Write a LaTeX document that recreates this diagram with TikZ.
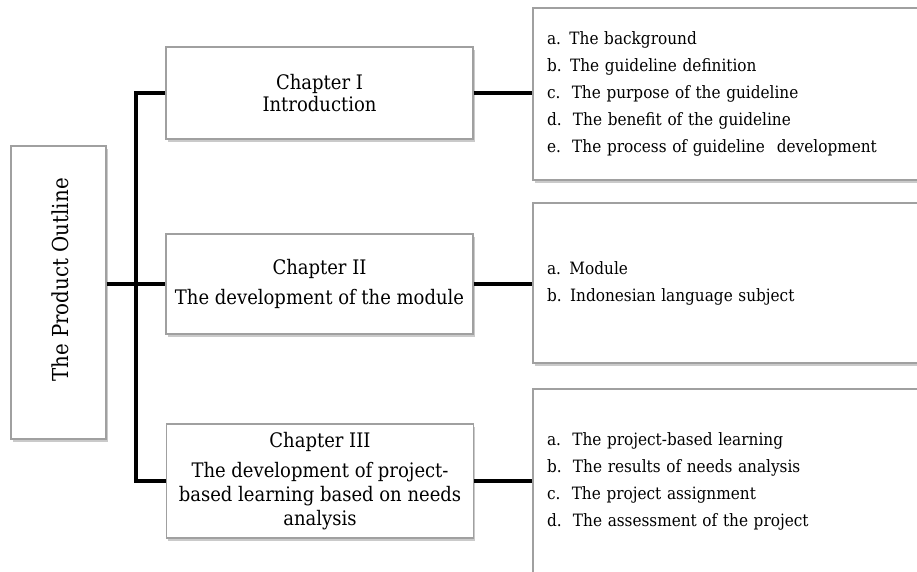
\documentclass[tikz,border=0pt]{standalone}
\usepackage{fontspec}
\setmainfont{DejaVu Serif Condensed}
\usetikzlibrary{positioning, shadows}
\definecolor{box-gray}{RGB}{160,160,160}

\begin{document}
\begin{tikzpicture}[x=1pt, y=-1pt]
	\tikzset{outbox/.style={draw=box-gray, line width=1.2pt, fill=white, drop shadow={shadow xshift=1.5pt, shadow yshift=-2.5pt, opacity=.35, fill=black!60}}}
	\tikzset{chapbox/.style={outbox, minimum width=307pt, align=center, inner sep=0pt}}
	\tikzset{listbox/.style={outbox, minimum width=392pt, text width=364pt, inner xsep=14pt, inner ysep=0pt, align=left, font=\fontsize{17}{27}\selectfont}}
	\tikzset{conn/.style={line width=4.5pt}}

	\useasboundingbox (0,0) rectangle (917,571);

	% the outline box on the left
	\node[outbox, minimum width=95pt, minimum height=293pt] (outline) at (58.5,292.5) {};
	\node[rotate=90, font=\fontsize{22}{26}\selectfont] (title) at (60,280) {The Product Outline};

	% chapters
	\node[chapbox, minimum height=92pt, font=\fontsize{20}{22}\selectfont] (ch1) at (319.5,93) {Chapter I\\Introduction};
	\node[chapbox, minimum height=100pt, font=\fontsize{20}{30}\selectfont] (ch2) at (319.5,284) {Chapter II\\The development of the module};
	\node[chapbox, minimum height=114pt, font=\fontsize{20}{24}\selectfont] (ch3) at (320,481) {Chapter III\\[6pt]The development of project-\\based learning based on needs\\analysis};

	% contents of the chapters
	\node[listbox, minimum height=172pt] (list1) at (729,94) {a. The background\\b. The guideline definition\\c.\ \ The purpose of the guideline\\d.\ \ The benefit of the guideline\\e.\ \ The process of guideline\hspace{12pt}development};
	\node[listbox, minimum height=160pt] (list2) at (729,283) {a. Module\\b. Indonesian language subject};
	\node[listbox, minimum height=185pt] (list3) at (729,481.5) {a.\ \ The project-based learning\\b.\ \ The results of needs analysis\\c.\ \ The project assignment\\d.\ \ The assessment of the project};

	% connectors
	\coordinate (trunk) at (136,284);
	\draw[conn] (ch1.west) -| (trunk) |- (ch3.west);
	\draw[conn] (outline.east |- trunk) -- (ch2.west |- trunk);
	\draw[conn] (ch1.east) -- (ch1.east -| list1.west);
	\draw[conn] (ch2.east) -- (ch2.east -| list2.west);
	\draw[conn] (ch3.east) -- (ch3.east -| list3.west);
\end{tikzpicture}
\end{document}
